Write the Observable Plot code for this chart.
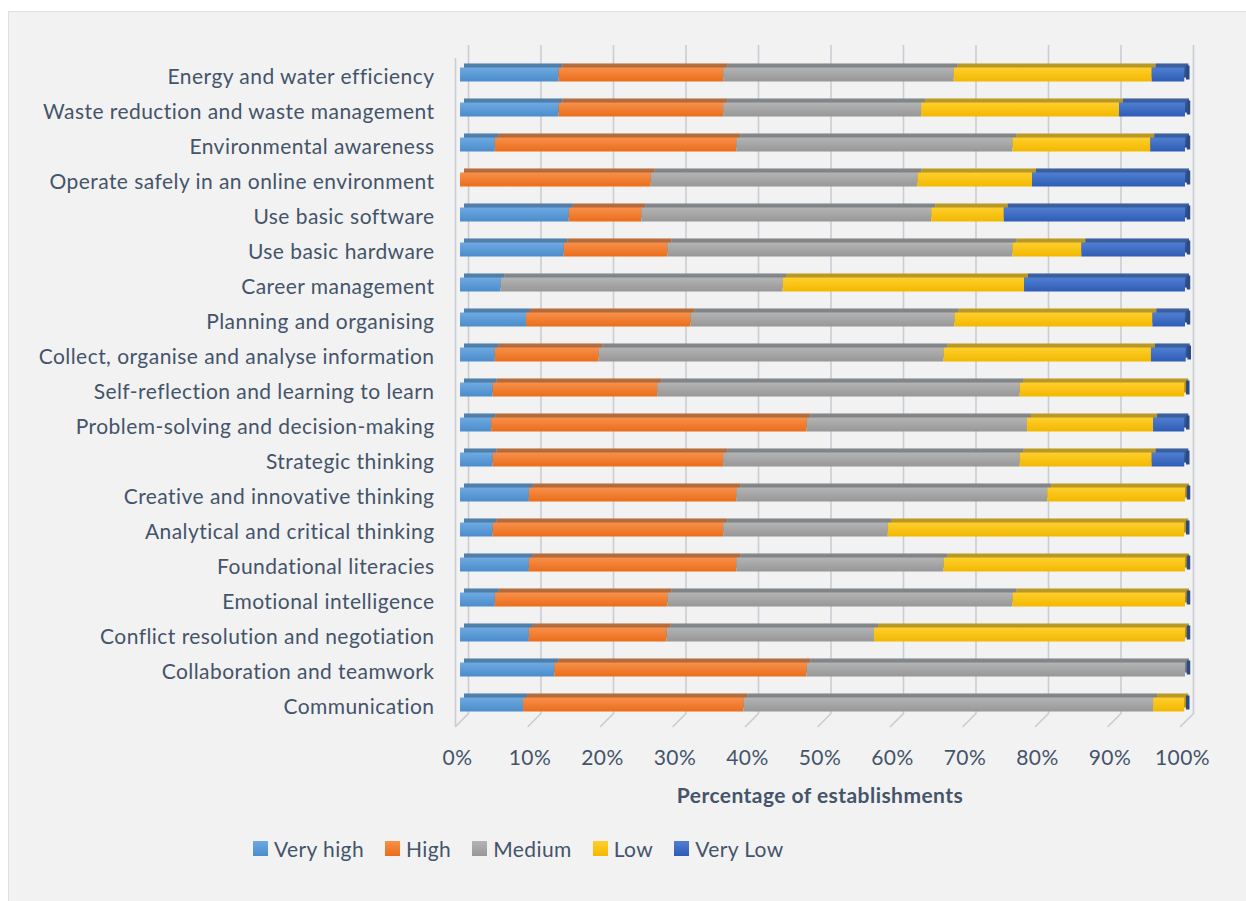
<!DOCTYPE html>
<html>
<head>
<meta charset="utf-8">
<script src="https://cdn.jsdelivr.net/npm/d3@7"></script>
<script src="https://cdn.jsdelivr.net/npm/@observablehq/plot@0.6"></script>
<style>
  html, body { margin: 0; padding: 0; background: #ffffff; width: 1246px; height: 901px; overflow: hidden; }
  #frame { position: absolute; left: 8px; top: 11px; width: 1260px; height: 910px; background: #f2f2f2; border: 1px solid #dde0e5; box-sizing: border-box; }
  #chart { position: absolute; left: 0; top: 0; }
  #chart svg text { letter-spacing: 0.45px; }
  #legend { position: absolute; left: 253px; top: 836px; display: flex; align-items: center; font-family: Lato, "Open Sans", sans-serif; font-size: 21px; letter-spacing: 0.4px; color: #44546a; white-space: nowrap; }
  #legend .item { display: flex; align-items: center; margin-right: 21px; }
  #legend .sw { width: 15px; height: 15px; margin-right: 6px; }
</style>
</head>
<body>
<div id="frame"></div>
<svg width="0" height="0" style="position:absolute">
  <defs id="grads"></defs>
</svg>
<div id="chart"></div>
<div id="legend"></div>
<script>
// ---- data ----
const categories = [
  "Energy and water efficiency",
  "Waste reduction and waste management",
  "Environmental awareness",
  "Operate safely in an online environment",
  "Use basic software",
  "Use basic hardware",
  "Career management",
  "Planning and organising",
  "Collect, organise and analyse information",
  "Self-reflection and learning to learn",
  "Problem-solving and decision-making",
  "Strategic thinking",
  "Creative and innovative thinking",
  "Analytical and critical thinking",
  "Foundational literacies",
  "Emotional intelligence",
  "Conflict resolution and negotiation",
  "Collaboration and teamwork",
  "Communication"
];
const levels = ["Very high", "High", "Medium", "Low", "Very Low"];
const veryHigh = [13.6, 13.6, 4.8, 0, 15.0, 14.3, 5.6, 9.1, 4.8, 4.5, 4.3, 4.5, 9.5, 4.5, 9.5, 4.8, 9.5, 13.0, 8.7];
const high     = [22.7, 22.7, 33.3, 26.3, 10.0, 14.3, 0, 22.7, 14.3, 22.7, 43.5, 31.8, 28.6, 31.8, 28.6, 23.8, 19.0, 34.8, 30.4];
const medium   = [31.8, 27.3, 38.1, 36.8, 40.0, 47.6, 38.9, 36.4, 47.6, 50.0, 30.4, 40.9, 42.9, 22.7, 28.6, 47.6, 28.6, 52.2, 56.5];
const low      = [27.3, 27.3, 19.0, 15.8, 10.0, 9.5, 33.3, 27.3, 28.6, 22.7, 17.4, 18.2, 19.0, 40.9, 33.3, 23.8, 42.9, 0, 4.3];
const veryLow  = [4.5, 9.1, 4.8, 21.1, 25.0, 14.3, 22.2, 4.5, 4.8, 0, 4.3, 4.5, 0, 0, 0, 0, 0, 0, 0];
const xTicks = [0, 10, 20, 30, 40, 50, 60, 70, 80, 90, 100];
const xLabel = "Percentage of establishments";

// ---- styling ----
const gradStops = [
  ["#6eaae2", "#4c8ccb"],
  ["#f8904a", "#ea6d1b"],
  ["#b4b4b4", "#979797"],
  ["#ffcf2c", "#f2b800"],
  ["#4f7fd2", "#2f5cb4"]
];
const defs = document.getElementById("grads");
defs.innerHTML = gradStops.map((s, i) =>
  `<linearGradient id="g${i}" x1="0" y1="0" x2="0" y2="1">
     <stop offset="0" stop-color="${s[0]}"/><stop offset="1" stop-color="${s[1]}"/>
   </linearGradient>`).join("");

const seriesValues = [veryHigh, high, medium, low, veryLow];
const table = [];
categories.forEach((c, i) => {
  levels.forEach((l, j) => table.push({category: c, level: l, value: seriesValues[j][i]}));
});
const totals = categories.map((c, i) => ({category: c, total: d3.sum(seriesValues, s => s[i])}));

const textColor = "#44546a";
const fontFamily = "Lato, 'Open Sans', sans-serif";
const depth = 4;      // bar extrusion
const barShift = 5;   // bar offset from front plane
const wall = 13;      // depth of back plane

const barOpts = {y: "category", x: "value", fill: "level", z: "level", order: null};

const chart = Plot.plot({
  width: 1246,
  height: 830,
  marginLeft: 455,
  marginRight: 66,
  marginTop: 58,
  marginBottom: 104,
  style: {background: "transparent", color: textColor, fontFamily, fontSize: "21px"},
  x: {domain: [0, 100]},
  y: {domain: categories, paddingInner: 0.6, paddingOuter: 0.3},
  color: {type: "ordinal", domain: levels, range: levels.map((_, i) => `url(#g${i})`)},
  marks: [
    // back-plane gridlines
    Plot.ruleX(xTicks, {x: d => d, dx: wall, dy: -wall, stroke: "#c9cdd3", strokeWidth: 1.6}),
    // front left wall edge
    Plot.ruleX([xTicks[0]], {x: d => d, stroke: "#c9cdd3", strokeWidth: 1.6}),
    // floor diagonals
    Plot.vector(xTicks, {
      x: d => d, frameAnchor: "bottom", length: wall * Math.SQRT2, rotate: 45, anchor: "start",
      stroke: "#c9cdd3", strokeWidth: 1.6,
      shape: {draw(context, l) { context.moveTo(0, 0); context.lineTo(0, -l); }}
    }),
    // extruded copy (top + side faces)
    Plot.barX(table, Plot.stackX({...barOpts, dx: barShift + depth, dy: -2.5 - depth})),
    Plot.barX(table, Plot.stackX({y: "category", x: "value", z: "level", order: null, fill: "#1a2330", fillOpacity: 0.3, dx: barShift + depth, dy: -2.5 - depth})),
    // end cap side face
    Plot.tickX(totals, {x: "total", y: "category", stroke: "#2d4a86", strokeWidth: 3.5, dx: barShift + depth / 2 + 1, dy: -2.5 - depth / 2}),
    // front faces
    Plot.barX(table, Plot.stackX({...barOpts, dx: barShift, dy: -2.5})),
    // axes
    Plot.axisX(xTicks, {tickSize: 0, tickPadding: 24, tickFormat: d => d + "%", fontSize: 21, fill: textColor, label: null, dx: 2}),
    Plot.axisY({tickSize: 0, tickPadding: 21, fontSize: 21, fill: textColor, label: null}),
    Plot.text([xLabel], {frameAnchor: "bottom", text: d => d, dy: 76, fontWeight: "bold", fontSize: 21, fill: textColor, dx: 2})
  ]
});
document.getElementById("chart").appendChild(chart);

// ---- legend ----
const legend = document.getElementById("legend");
levels.forEach((l, i) => {
  const item = document.createElement("div");
  item.className = "item";
  const sw = document.createElement("span");
  sw.className = "sw";
  sw.style.background = `linear-gradient(${gradStops[i][0]}, ${gradStops[i][1]})`;
  const t = document.createElement("span");
  t.textContent = l;
  item.appendChild(sw);
  item.appendChild(t);
  legend.appendChild(item);
});
</script>
</body>
</html>
